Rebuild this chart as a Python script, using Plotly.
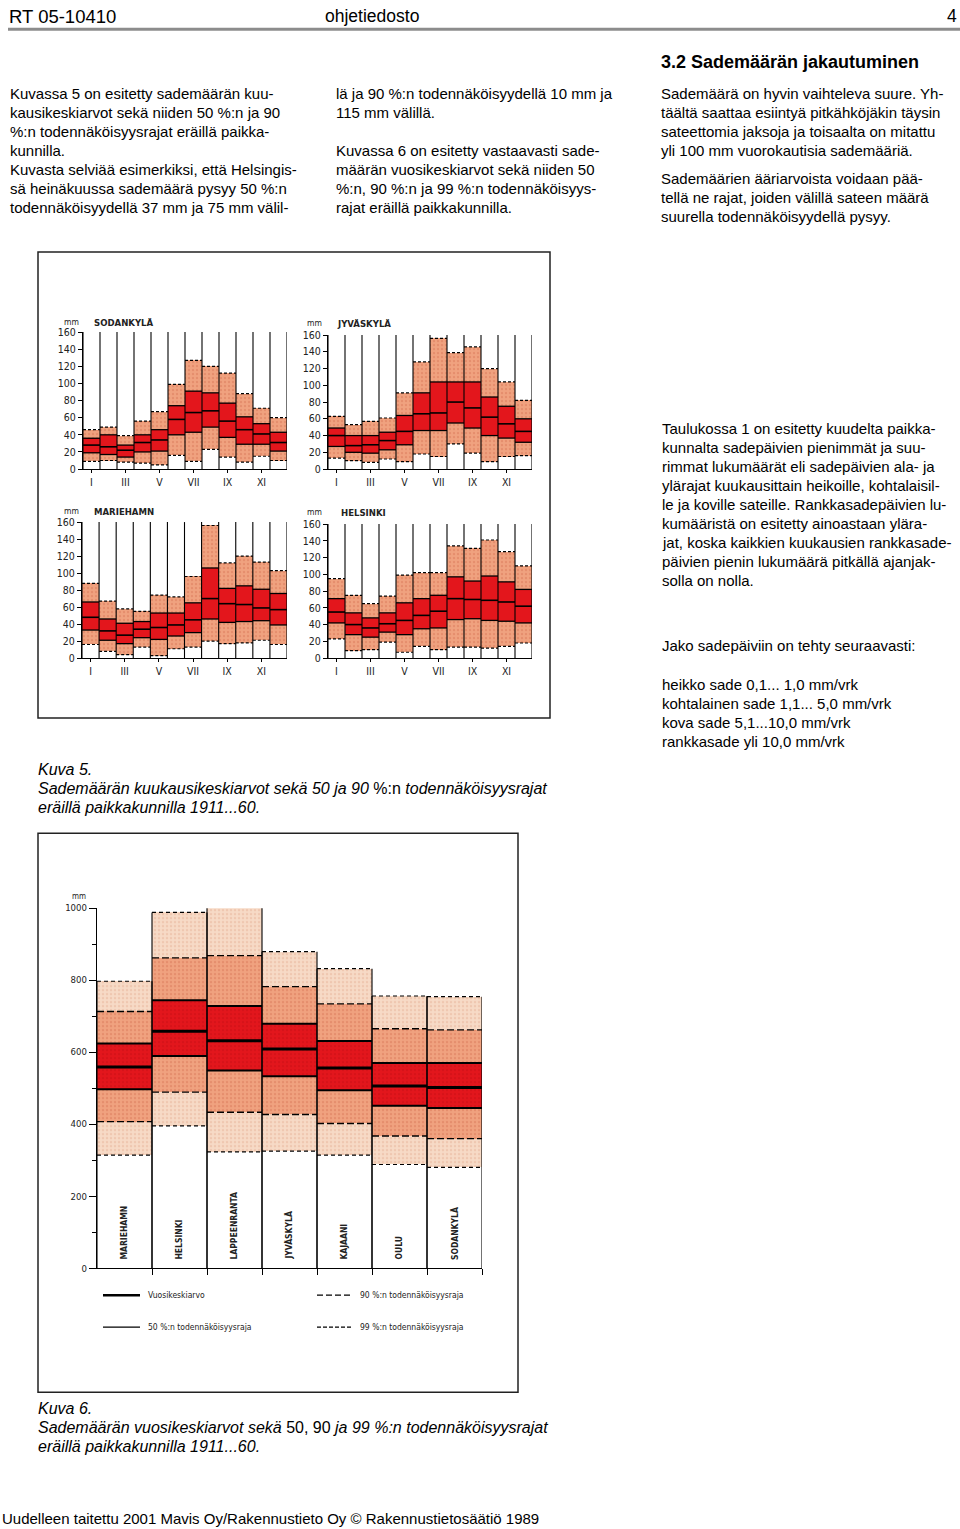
import plotly.graph_objects as go

W, H = 960, 1529

# ---------------- DATA ----------------
roman = ["I", "II", "III", "IV", "V", "VI", "VII", "VIII", "IX", "X", "XI", "XII"]
months = list(range(1, 13))
month_top = 160

sod_lo90 = [9, 10, 8, 7, 5, 16, 9, 23, 14, 8, 15, 10]
sod_lo50 = [19, 17, 14, 20, 21, 40, 43, 49, 37, 29, 29, 21]
sod_mean = [28, 26, 22, 31, 34, 58, 66, 68, 56, 46, 41, 31]
sod_hi50 = [36, 40, 28, 40, 46, 74, 91, 89, 77, 61, 53, 43]
sod_hi90 = [46, 49, 39, 56, 67, 99, 127, 120, 112, 88, 71, 60]

jyv_lo90 = [13, 10, 8, 12, 9, 18, 15, 30, 19, 9, 15, 16]
jyv_lo50 = [27, 20, 19, 23, 29, 46, 46, 55, 49, 40, 37, 32]
jyv_mean = [40, 28, 29, 34, 45, 66, 67, 80, 73, 62, 54, 45]
jyv_hi50 = [49, 40, 40, 44, 64, 91, 104, 104, 104, 86, 75, 60]
jyv_hi90 = [63, 53, 57, 61, 91, 128, 156, 139, 146, 120, 104, 82]

mar_lo90 = [16, 8, 4, 13, 3, 11, 13, 20, 17, 18, 21, 16]
mar_lo50 = [33, 21, 17, 24, 22, 26, 30, 46, 42, 43, 44, 39]
mar_mean = [48, 32, 27, 34, 36, 39, 45, 70, 64, 63, 59, 57]
mar_hi50 = [66, 46, 41, 43, 53, 53, 65, 106, 82, 85, 81, 76]
mar_hi90 = [88, 67, 58, 55, 74, 72, 96, 156, 112, 120, 113, 103]

hel_lo90 = [23, 9, 10, 19, 7, 14, 10, 13, 13, 12, 14, 18]
hel_lo50 = [42, 28, 25, 31, 28, 35, 36, 46, 47, 45, 44, 42]
hel_mean = [55, 40, 36, 41, 45, 51, 56, 71, 70, 69, 67, 62]
hel_hi50 = [71, 54, 48, 54, 66, 71, 75, 97, 92, 98, 91, 82]
hel_hi90 = [95, 75, 65, 74, 99, 102, 102, 134, 131, 141, 127, 110]

ann_stations = ["MARIEHAMN", "HELSINKI", "LAPPEENRANTA", "JYVÄSKYLÄ", "KAJAANI", "OULU", "SODANKYLÄ"]
ann_lo99 = [314, 395, 323, 325, 314, 288, 280]
ann_lo90 = [407, 489, 433, 427, 402, 367, 360]
ann_lo50 = [497, 589, 549, 533, 494, 451, 445]
ann_mean = [559, 658, 632, 609, 556, 506, 502]
ann_hi50 = [624, 744, 728, 679, 631, 570, 570]
ann_hi90 = [713, 862, 868, 782, 734, 665, 662]
ann_hi99 = [797, 988, 1003, 879, 832, 756, 754]

# ---------------- STYLE ----------------
RED = "#E3161C"
SALMON = "#F0A27F"
SALMON_DOT = "#D97A5A"
LIGHT = "#F7DAC6"
LIGHT_DOT = "#E6B49A"
BODY = "Liberation Sans, Arial, sans-serif"
COND = "Liberation Sans Narrow, Arial Narrow, DejaVu Sans Condensed, Liberation Sans, sans-serif"

YOFF, YSCALE = 6.0, 0.992


def px(x):
    return x / W


def py(y):
    return 1 - ((y - YOFF) / YSCALE) / H


def hsegs(xc, yv, half=0.5):
    xs, ys = [], []
    for x, y in zip(xc, yv):
        xs += [x - half, x + half, None]
        ys += [y, y, None]
    return xs, ys


def band(xc, lo, hi, color, dot, ax, pattern=True):
    marker = dict(color=color, line=dict(width=0))
    if pattern:
        marker["pattern"] = dict(shape=".", bgcolor=color, fgcolor=dot, size=4, solidity=0.3)
    return go.Bar(x=xc, y=[b - a for a, b in zip(lo, hi)], base=lo, width=1,
                  marker=marker, xaxis="x" + ax, yaxis="y" + ax,
                  showlegend=False, hoverinfo="skip")


def line(xs, ys, ax, width, dash="solid", color="black"):
    return go.Scatter(x=xs, y=ys, mode="lines", line=dict(color=color, width=width, dash=dash),
                      xaxis="x" + ax, yaxis="y" + ax, showlegend=False, hoverinfo="skip")


fig = go.Figure()

panels = [
    ("", "SODANKYLÄ", sod_lo90, sod_lo50, sod_mean, sod_hi50, sod_hi90, (83, 287), (332, 469), (62, 92, 322)),
    ("2", "JYVÄSKYLÄ", jyv_lo90, jyv_lo50, jyv_mean, jyv_hi50, jyv_hi90, (328, 532), (335, 469), (305, 335, 323)),
    ("3", "MARIEHAMN", mar_lo90, mar_lo50, mar_mean, mar_hi50, mar_hi90, (82, 287), (522, 658), (62, 92, 511)),
    ("4", "HELSINKI", hel_lo90, hel_lo50, hel_mean, hel_hi50, hel_hi90, (328, 532), (524, 658), (305, 339, 512)),
]

annotations = []
layout_axes = {}

for ax, name, lo90, lo50, mean, hi50, hi90, xd, yd, lab in panels:
    vx, vy = [], []
    for e in [m - 0.5 for m in months] + [months[-1] + 0.5]:
        vx += [e, e, None]
        vy += [0, month_top, None]
    fig.add_trace(line(vx, vy, ax, 1.1))
    fig.add_trace(band(months, lo90, lo50, SALMON, SALMON_DOT, ax))
    fig.add_trace(band(months, lo50, hi50, RED, RED, ax, pattern=False))
    fig.add_trace(band(months, hi50, hi90, SALMON, SALMON_DOT, ax))
    for arr, w, d in [(lo90, 1.2, "3px,2px"), (hi90, 1.2, "3px,2px"),
                      (lo50, 1.3, "solid"), (hi50, 1.3, "solid"), (mean, 1.6, "solid")]:
        xs, ys = hsegs(months, arr)
        fig.add_trace(line(xs, ys, ax, w, d))
    k = ax
    layout_axes["xaxis" + k] = dict(
        domain=[px(xd[0]), px(xd[1])], range=[0.5, 12.5], anchor="y" + k,
        tickvals=months[::2], ticktext=roman[::2], showgrid=False, zeroline=False,
        showline=True, linecolor="black", linewidth=1.2, ticks="outside", ticklen=3,
        tickcolor="black", tickfont=dict(family=COND, size=10.5, color="#222"))
    layout_axes["yaxis" + k] = dict(
        domain=[py(yd[1]), py(yd[0])], range=[0, month_top], anchor="x" + k, dtick=20,
        showgrid=False, zeroline=False, showline=True, linecolor="black", linewidth=1.2,
        ticks="outside", ticklen=4, tickcolor="black",
        tickfont=dict(family=COND, size=10.5, color="#222"))
    annotations.append(dict(x=px(lab[0]), y=py(lab[2]), xref="paper", yref="paper", text="mm",
                            showarrow=False, xanchor="left", yanchor="middle",
                            font=dict(family=COND, size=8.5, color="#222")))
    annotations.append(dict(x=px(lab[1]), y=py(lab[2]), xref="paper", yref="paper", text="<b>" + name + "</b>",
                            showarrow=False, xanchor="left", yanchor="middle",
                            font=dict(family=COND, size=9.5, color="#222")))

# ---------------- ANNUAL CHART ----------------
ax = "5"
cols = list(range(1, len(ann_stations) + 1))
vx, vy = [], []
for c, top in zip(cols, ann_hi99):
    vx += [c - 0.5, c - 0.5, None, c + 0.5, c + 0.5, None]
    vy += [0, top, None, 0, top, None]
fig.add_trace(line(vx, vy, ax, 1.1))
fig.add_trace(band(cols, ann_lo99, ann_lo90, LIGHT, LIGHT_DOT, ax))
fig.add_trace(band(cols, ann_lo90, ann_lo50, SALMON, SALMON_DOT, ax))
fig.add_trace(band(cols, ann_lo50, ann_hi50, RED, "#C80F15", ax))
fig.add_trace(band(cols, ann_hi50, ann_hi90, SALMON, SALMON_DOT, ax))
fig.add_trace(band(cols, ann_hi90, ann_hi99, LIGHT, LIGHT_DOT, ax))
for arr, w, d in [(ann_lo99, 1.2, "4px,3px"), (ann_hi99, 1.2, "4px,3px"),
                  (ann_lo90, 1.4, "7px,3px"), (ann_hi90, 1.4, "7px,3px"),
                  (ann_lo50, 2.0, "solid"), (ann_hi50, 2.0, "solid"), (ann_mean, 3.0, "solid")]:
    xs, ys = hsegs(cols, arr)
    fig.add_trace(line(xs, ys, ax, w, d))

layout_axes["xaxis5"] = dict(
    domain=[px(97), px(482)], range=[0.5, len(cols) + 0.5], anchor="y5",
    tickvals=[c + 0.5 for c in cols], ticktext=["" for _ in cols], showgrid=False, zeroline=False,
    showline=True, linecolor="black", linewidth=1.2, ticks="outside", ticklen=6, tickcolor="black")
layout_axes["yaxis5"] = dict(
    domain=[py(1268), py(908)], range=[0, 1000], anchor="x5", dtick=200,
    showgrid=False, zeroline=False, showline=True, linecolor="black", linewidth=1.2,
    ticks="outside", ticklen=7, tickcolor="black",
    minor=dict(dtick=100, ticks="outside", ticklen=4, tickcolor="black"),
    tickfont=dict(family=COND, size=9.5, color="#222"))

for c, name in zip(cols, ann_stations):
    annotations.append(dict(x=c, y=17, xref="x5", yref="y5", text="<b>" + name + "</b>", textangle=-90,
                            showarrow=False, xanchor="center", yanchor="bottom",
                            font=dict(family=COND, size=8.5, color="#222")))
annotations.append(dict(x=px(70), y=py(896), xref="paper", yref="paper", text="mm", showarrow=False,
                        xanchor="left", yanchor="middle", font=dict(family=COND, size=8, color="#222")))

shapes = []
leg = [
    (103, 140, 1295, 2.5, "solid", "Vuosikeskiarvo", 146),
    (103, 140, 1327, 1.3, "solid", "50 %:n todennäköisyysraja", 146),
    (317, 353, 1295, 1.3, "6px,3px", "90 %:n todennäköisyysraja", 358),
    (317, 353, 1327, 1.3, "4px,2px", "99 %:n todennäköisyysraja", 358),
]
for x0, x1, yy, w, d, t, tx in leg:
    shapes.append(dict(type="line", xref="paper", yref="paper", x0=px(x0), x1=px(x1), y0=py(yy), y1=py(yy),
                       line=dict(color="black", width=w, dash=d)))
    annotations.append(dict(x=px(tx), y=py(yy), xref="paper", yref="paper", text=t, showarrow=False,
                            xanchor="left", yanchor="middle", font=dict(family=COND, size=8.5, color="#222")))

shapes.append(dict(type="rect", xref="paper", yref="paper", x0=px(38), x1=px(550), y0=py(718), y1=py(252),
                   line=dict(color="#222", width=1.5)))
shapes.append(dict(type="rect", xref="paper", yref="paper", x0=px(38), x1=px(518), y0=py(1392), y1=py(833),
                   line=dict(color="#222", width=1.5)))
# header rule, placed just under the header text (which sits at the very top of the figure)
shapes.append(dict(type="line", xref="paper", yref="paper", x0=px(8), x1=px(960), y0=1 - 23.5 / H,
                   y1=1 - 23.5 / H, line=dict(color="#8c8c8c", width=3)))


# ---------------- PAGE TEXT ----------------
def txt(x, y, s, size=15, anchor="left", family=BODY):
    xx = x - 2 if anchor == "left" else x
    annotations.append(dict(x=px(xx), y=py(y), xref="paper", yref="paper", text=s, showarrow=False,
                            xanchor=anchor, yanchor="middle", font=dict(family=family, size=size, color="black")))


def head(x, s, size, anchor="left"):
    annotations.append(dict(x=px(x), y=1, xref="paper", yref="paper", text=s, showarrow=False,
                            xanchor=anchor, yanchor="top", borderpad=0, borderwidth=0,
                            font=dict(family=BODY, size=size, color="black")))


head(9, "RT 05-10410", 18.5)
head(325, "ohjetiedosto", 17.5)
head(957, "4", 17.5, anchor="right")

col1 = ["Kuvassa 5 on esitetty sademäärän kuu-",
        "kausikeskiarvot sekä niiden 50 %:n ja 90",
        "%:n todennäköisyysrajat eräillä paikka-",
        "kunnilla.",
        "Kuvasta selviää esimerkiksi, että Helsingis-",
        "sä heinäkuussa sademäärä pysyy 50 %:n",
        "todennäköisyydellä 37 mm ja 75 mm välil-"]
for i, s in enumerate(col1):
    txt(10, 93 + 19 * i, s)

col2 = [(93, "lä ja 90 %:n todennäköisyydellä 10 mm ja"),
        (112, "115 mm välillä."),
        (150, "Kuvassa 6 on esitetty vastaavasti sade-"),
        (169, "määrän vuosikeskiarvot sekä niiden 50"),
        (188, "%:n, 90 %:n ja 99 %:n todennäköisyys-"),
        (207, "rajat eräillä paikkakunnilla.")]
for y, s in col2:
    txt(336, y, s)

txt(661, 62, "<b>3.2 Sademäärän jakautuminen</b>", 18)
col3 = [(93, "Sademäärä on hyvin vaihteleva suure. Yh-"),
        (112, "täältä saattaa esiintyä pitkähköjäkin täysin"),
        (131, "sateettomia jaksoja ja toisaalta on mitattu"),
        (150, "yli 100 mm vuorokautisia sademääriä."),
        (178, "Sademäärien ääriarvoista voidaan pää-"),
        (197, "tellä ne rajat, joiden välillä sateen määrä"),
        (216, "suurella todennäköisyydellä pysyy.")]
for y, s in col3:
    txt(661, y, s)

col4 = ["Taulukossa 1 on esitetty kuudelta paikka-",
        "kunnalta sadepäivien pienimmät ja suu-",
        "rimmat lukumäärät eli sadepäivien ala- ja",
        "ylärajat kuukausittain heikoille, kohtalaisil-",
        "le ja koville sateille. Rankkasadepäivien lu-",
        "kumääristä on esitetty ainoastaan ylära-",
        "jat, koska kaikkien kuukausien rankkasade-",
        "päivien pienin lukumäärä pitkällä ajanjak-",
        "solla on nolla."]
for i, s in enumerate(col4):
    txt(662, 428 + 19 * i, s)
txt(662, 645, "Jako sadepäiviin on tehty seuraavasti:")
col5 = ["heikko sade 0,1... 1,0 mm/vrk",
        "kohtalainen sade 1,1... 5,0 mm/vrk",
        "kova sade 5,1...10,0 mm/vrk",
        "rankkasade yli 10,0 mm/vrk"]
for i, s in enumerate(col5):
    txt(662, 684 + 19 * i, s)

txt(38, 769, "<i>Kuva 5.</i>", 16)
txt(38, 788, "<i>Sademäärän kuukausikeskiarvot sekä 50 ja 90 </i>%:n<i> todennäköisyysrajat</i>", 16)
txt(38, 807, "<i>eräillä paikkakunnilla 1911...60.</i>", 16)
txt(38, 1408, "<i>Kuva 6.</i>", 16)
txt(38, 1427, "<i>Sademäärän vuosikeskiarvot sekä </i>50, 90<i> ja 99 %:n todennäköisyysrajat</i>", 16)
txt(38, 1446, "<i>eräillä paikkakunnilla 1911...60.</i>", 16)
txt(2, 1518, "Uudelleen taitettu 2001 Mavis Oy/Rakennustieto Oy © Rakennustietosäätiö 1989", 15)

fig.update_layout(
    width=W, height=H, margin=dict(l=0, r=0, t=0, b=0),
    paper_bgcolor="white", plot_bgcolor="rgba(0,0,0,0)",
    barmode="overlay", bargap=0, showlegend=False,
    annotations=annotations, shapes=shapes, **layout_axes)

fig.write_html("out.html", config={"displayModeBar": False, "staticPlot": True},
               post_script="document.body.style.margin='0';document.body.style.padding='0';"
                           "document.documentElement.style.overflow='hidden';")
